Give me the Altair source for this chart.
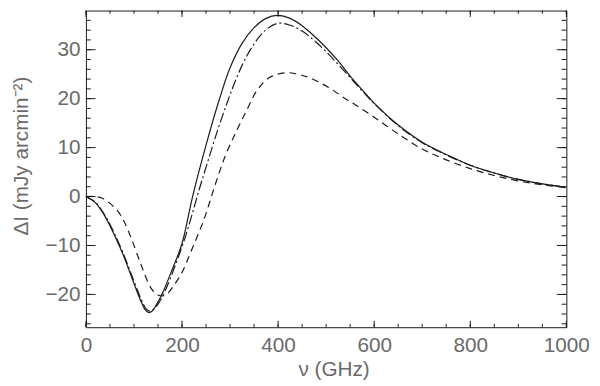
import altair as alt
import pandas as pd

# ---- data ----
nu_solid = [0, 20, 40, 60, 80, 100, 115, 124, 131, 138, 145, 160, 180, 200, 222, 250, 275, 300, 325, 350, 375, 398,
            425, 450, 475, 500, 525, 550, 575, 600, 650, 700, 750, 800, 850, 900, 950, 1000]
dI_solid = [0, -1.3, -4.1, -8.0, -12.5, -17.8, -21.5, -23.2, -23.7, -23.4, -22.4, -19.6, -14.8, -9.6, 0, 10.5, 19.0,
            26.3, 31.3, 34.5, 36.4, 37.0, 36.4, 34.9, 32.8, 30.4, 27.7, 24.6, 21.8, 19.1, 14.6, 11.1, 8.6, 6.4,
            4.8, 3.5, 2.6, 1.9]

nu_dashdot = [0, 20, 40, 60, 80, 100, 115, 125, 133, 140, 148, 165, 185, 205, 220, 235, 250, 275, 300, 325, 350,
              375, 400, 425, 450, 475, 500, 525, 550, 575, 600, 650, 700, 750, 800, 850, 900, 950, 1000]
dI_dashdot = [0, -1.2, -3.9, -7.7, -12.2, -17.3, -21.0, -22.9, -23.4, -23.1, -22.3, -19.2, -14.3, -8.8, -4.0,
              1.2, 6.0, 13.8, 20.8, 26.8, 31.2, 34.1, 35.4, 35.0, 33.8, 31.9, 29.6, 27.0, 24.3, 21.6, 19.0,
              14.5, 11.0, 8.5, 6.4, 4.8, 3.5, 2.6, 1.9]

nu_dashed = [0, 20, 33, 50, 68, 80, 95, 115, 136, 150, 160, 170, 184, 200, 218, 246, 269, 290, 314, 335, 355,
             382, 417, 440, 465, 505, 540, 560, 600, 650, 700, 750, 800, 850, 900, 950, 1000]
dI_dashed = [0, 0, -0.3, -1.4, -3.2, -5.2, -8.7, -14.0, -18.8, -20.1, -20.3, -19.8, -18.0, -15.5, -11.4, -4.6,
             2.4, 8.3, 13.5, 17.7, 21.5, 24.3, 25.3, 25.0, 24.3, 22.3, 20.0, 18.8, 16.2, 12.8, 9.7, 7.5, 5.7,
             4.3, 3.2, 2.4, 1.8]

x_major = [0, 200, 400, 600, 800, 1000]
x_minor = [v for v in range(0, 1001, 50)]
y_major = [-20, -10, 0, 10, 20, 30]
y_minor = [v for v in range(-26, 38, 2)]

X_DOMAIN = [0, 1000]
Y_DOMAIN = [-26.7, 38.0]
W, H = 487, 321
FONT = "Liberation Sans"
GREY = "#6a6a6a"
INK = "#1a1a1a"
FS = 21

xs = alt.Scale(domain=X_DOMAIN, nice=False, zero=False)
ys = alt.Scale(domain=Y_DOMAIN, nice=False, zero=False)

x_axis = alt.Axis(values=x_major, format="d", ticks=False, tickSize=0, domain=False, grid=False,
                  labelFlush=False, labelOverlap=False,
                  labelPadding=8, labelFontSize=FS, labelFont=FONT, labelColor=GREY,
                  title="ν (GHz)", titleFontSize=FS, titleFont=FONT, titleFontWeight="normal",
                  titleColor=GREY, titleX=251, titleY=49, titleAlign="center", titleBaseline="alphabetic")
y_axis = alt.Axis(values=y_major, format="d", ticks=False, tickSize=0, domain=False, grid=False,
                  labelFlush=False, labelOverlap=False,
                  labelPadding=6, labelFontSize=FS, labelFont=FONT, labelColor=GREY,
                  title="ΔI (mJy arcmin⁻²)", titleFontSize=FS, titleFont=FONT, titleFontWeight="normal",
                  titleColor=GREY, titleAngle=270, titleX=-65, titleY=147, titleAlign="center",
                  titleBaseline="middle")


def curve(nu, dI, dash):
    df = pd.DataFrame({"nu": nu, "dI": dI})
    mk = dict(color=INK, strokeWidth=1.2, interpolate="catmull-rom")
    if dash:
        mk["strokeDash"] = dash
    return alt.Chart(df).mark_line(**mk).encode(
        x=alt.X("nu:Q", scale=xs, axis=x_axis),
        y=alt.Y("dI:Q", scale=ys, axis=y_axis),
    )


def xticks(vals, length):
    df = pd.DataFrame({"t": vals})
    bottom = alt.Chart(df).mark_rule(color=INK, strokeWidth=1).encode(
        x=alt.X("t:Q", scale=xs, axis=x_axis), y=alt.value(H), y2=alt.value(H - length))
    top = alt.Chart(df).mark_rule(color=INK, strokeWidth=1).encode(
        x=alt.X("t:Q", scale=xs, axis=x_axis), y=alt.value(0), y2=alt.value(length))
    return [bottom, top]


def yticks(vals, length):
    df = pd.DataFrame({"t": vals})
    left = alt.Chart(df).mark_rule(color=INK, strokeWidth=1).encode(
        y=alt.Y("t:Q", scale=ys, axis=y_axis), x=alt.value(0), x2=alt.value(length))
    right = alt.Chart(df).mark_rule(color=INK, strokeWidth=1).encode(
        y=alt.Y("t:Q", scale=ys, axis=y_axis), x=alt.value(W), x2=alt.value(W - length))
    return [left, right]


layers = [
    curve(nu_solid, dI_solid, None),
    curve(nu_dashdot, dI_dashdot, [10, 3, 2, 3]),
    curve(nu_dashed, dI_dashed, [7, 5]),
]
layers += xticks(x_major, 6.5) + xticks(x_minor, 3.3)
layers += yticks(y_major, 9.7) + yticks(y_minor, 4.9)

chart = alt.layer(*layers).properties(
    width=W, height=H,
    background="white",
    autosize=alt.AutoSizeParams(type="none"),
    padding={"left": 79, "top": 0, "right": 26, "bottom": 57},
).configure_view(stroke=INK, strokeWidth=1)

chart.save("out.html", embed_options={"renderer": "svg", "actions": False})
